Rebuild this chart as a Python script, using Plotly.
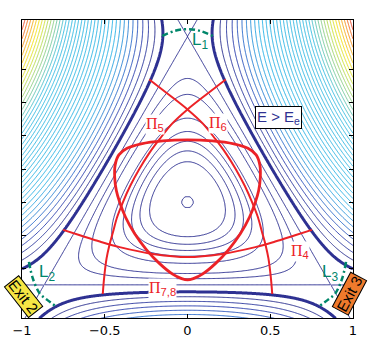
import numpy as np
import plotly.graph_objects as go

# ---------------- data ----------------
E_LEVEL = 0.2                      # energy of the thick equipotential
OUTER_LEVELS = [0.2254, 0.2515, 0.2785, 0.3062, 0.3346, 0.3639, 0.3939, 0.4246, 0.4562, 0.4885,
                0.5216, 0.5554, 0.5901, 0.6255, 0.6616, 0.6986, 0.7363, 0.7747, 0.8140, 0.8540,
                0.8948, 0.9363, 0.9787, 1.0218, 1.0656, 1.1103, 1.1557, 1.2018, 1.2488, 1.2965,
                1.3450, 1.3942, 1.4443, 1.4951, 1.5466, 1.5990, 1.6521, 1.7060, 1.7606]
INNER_LEVELS = [0.0005, 0.025, 0.038, 0.051, 0.065, 0.085, 0.12, 0.14, 1 / 6]

X_TICKS = [-1, -0.5, 0, 0.5, 1]
X_TICK_TEXT = ["\u22121", "\u22120.5", "0", "0.5", "1"]
Y_TICKS = [-0.4, -0.2, 0, 0.2, 0.4, 0.6, 0.8]

# periodic orbit Pi_7,8 (closed loop)
LOOP_RX = [0, 0.15, 0.28, 0.365, 0.415, 0.437, 0.44, 0.43, 0.41, 0.375, 0.32, 0.25, 0.17, 0.09, 0.035, 0]
LOOP_RY = [0.376, 0.37, 0.352, 0.325, 0.285, 0.225, 0.15, 0.07, 0.0, -0.09, -0.19, -0.285, -0.37, -0.435, -0.462, -0.47]
# periodic orbit Pi_5 (Pi_6 is its mirror image)
PI5_X = [-0.231, -0.12, 0.0, 0.09, 0.169, 0.235, 0.291, 0.345, 0.39, 0.425, 0.45, 0.472, 0.489, 0.503, 0.512]
PI5_Y = [0.741, 0.655, 0.56, 0.477, 0.38, 0.29, 0.2, 0.1, 0.0, -0.09, -0.18, -0.26, -0.34, -0.45, -0.555]
# periodic orbit Pi_4
PI4_X = [-0.752, -0.65, -0.53, -0.41, -0.2, 0, 0.2, 0.41, 0.53, 0.65, 0.752]
PI4_Y = [-0.168, -0.2, -0.238, -0.272, -0.315, -0.332, -0.315, -0.272, -0.238, -0.2, -0.168]
# Lyapunov orbits
L1_X = [-0.153, -0.077, 0.0, 0.077, 0.153]
L1_Y = [1.004, 1.034, 1.045, 1.034, 1.004]
L2_X = [-0.958, -0.934, -0.892, -0.85, -0.802]
L2_Y = [-0.361, -0.463, -0.553, -0.589, -0.625]

# ---------------- potential grid (Henon-Heiles) ----------------
xg = np.linspace(-1, 1, 401)
yg = np.linspace(-0.7025, 1.1025, 362)
X, Y = np.meshgrid(xg, yg)
V = 0.5 * (X ** 2 + Y ** 2) + X ** 2 * Y - Y ** 3 / 3.0

# level-index fields (contours drawn at integer index values)
n_in = len(INNER_LEVELS)
xp_in = [0.0] + INNER_LEVELS + [10.0]
fp_in = [-1.0] + list(range(n_in)) + [n_in - 1 + (10.0 - INNER_LEVELS[-1]) / 0.02]
Z_inner = np.round(np.interp(V, xp_in, fp_in), 4)

n_out = len(OUTER_LEVELS)
xp_out = [0.0, E_LEVEL] + OUTER_LEVELS + [10.0]
fp_out = [-E_LEVEL / 0.0254, 0.0] + list(range(1, n_out + 1)) + [n_out + (10.0 - OUTER_LEVELS[-1]) / 0.055]
Z_outer = np.round(np.interp(V, xp_out, fp_out), 4)

NAVY = "#2e3192"
RED = "#ec2227"
GREEN = "#00866a"
LINE_SCALE = [
    [0.0, "#2a2f8f"],
    [0.053, "#2c3fae"],
    [0.105, "#2b6ccc"],
    [0.158, "#2a95dc"],
    [0.21, "#29b2e7"],
    [0.605, "#38bde2"],
    [0.71, "#8ccf88"],
    [0.79, "#cfe23a"],
    [0.842, "#f6e21b"],
    [0.92, "#f7951f"],
    [0.974, "#ef4a2a"],
    [1.0, "#e8382a"],
]

fig = go.Figure()
fig.add_trace(go.Contour(
    x=xg, y=yg, z=Z_outer, showscale=False, hoverinfo="skip",
    contours=dict(coloring="lines", start=1, end=n_out, size=1),
    line=dict(width=1), colorscale=LINE_SCALE,
))
fig.add_trace(go.Contour(
    x=xg, y=yg, z=Z_inner, showscale=False, hoverinfo="skip",
    contours=dict(coloring="none", start=0, end=n_in - 1, size=1),
    line=dict(width=1, color=NAVY),
))
fig.add_trace(go.Contour(
    x=xg, y=yg, z=Z_outer, showscale=False, hoverinfo="skip",
    contours=dict(coloring="none", start=0, end=0, size=1),
    line=dict(width=3, color=NAVY),
))

# periodic orbits
loop_x = LOOP_RX + [-v for v in LOOP_RX[::-1]][1:]
loop_y = LOOP_RY + LOOP_RY[::-1][1:]
fig.add_trace(go.Scatter(x=loop_x, y=loop_y, mode="lines", line=dict(color=RED, width=2.8, shape="spline"), hoverinfo="skip"))
fig.add_trace(go.Scatter(x=PI5_X, y=PI5_Y, mode="lines", line=dict(color=RED, width=2, shape="spline"), hoverinfo="skip"))
fig.add_trace(go.Scatter(x=[-v for v in PI5_X], y=PI5_Y, mode="lines", line=dict(color=RED, width=2, shape="spline"), hoverinfo="skip"))
fig.add_trace(go.Scatter(x=PI4_X, y=PI4_Y, mode="lines", line=dict(color=RED, width=2, shape="spline"), hoverinfo="skip"))

# Lyapunov orbits
for lx, ly in [(L1_X, L1_Y), (L2_X, L2_Y), ([-v for v in L2_X], L2_Y)]:
    fig.add_trace(go.Scatter(x=lx, y=ly, mode="lines",
                             line=dict(color=GREEN, width=2.5, dash="6px,3px,2px,3px", shape="spline"),
                             hoverinfo="skip"))

ann = []
def pi_label(x, y, sub):
    ann.append(dict(x=x, y=y, xref="x", yref="y", showarrow=False,
                    text='<span style="font-family:Liberation Serif">\u03a0</span><sub>%s</sub>' % sub,
                    font=dict(family="Liberation Sans", size=16, color=RED),
                    bgcolor="white", borderpad=0))

pi_label(-0.195, 0.47, "5")
pi_label(0.183, 0.476, "6")
pi_label(0.682, -0.299, "4")
pi_label(-0.153, -0.521, "7,8")

for x, y, s in [(0.075, 0.976, "1"), (-0.847, -0.431, "2"), (0.862, -0.431, "3")]:
    ann.append(dict(x=x, y=y, xref="x", yref="y", showarrow=False,
                    text="L<sub>%s</sub>" % s,
                    font=dict(family="Liberation Sans", size=17, color=GREEN)))

ann.append(dict(x=0.551, y=0.511, xref="x", yref="y", showarrow=False,
                text="E > E<sub>e</sub>", font=dict(family="Liberation Sans", size=15, color=NAVY),
                bgcolor="white", bordercolor="black", borderwidth=1, borderpad=1))

for x, y, txt, col, ang in [(0.0, 1.148, "Exit 1", "#1b9ad6", 0),
                            (-0.99, -0.568, "Exit 2", "#f6e645", 52),
                            (0.978, -0.55, "Exit 3", "#ef7a2c", -62)]:
    ann.append(dict(x=x, y=y, xref="x", yref="y", showarrow=False, text=txt, textangle=ang,
                    font=dict(family="Liberation Sans", size=15, color="black"),
                    bgcolor=col, bordercolor="black", borderwidth=1, borderpad=0))

ann.append(dict(x=0.36, y=-0.80, xref="x", yref="y", showarrow=False,
                text="\u25c2 \u25ab \u25b8  \u25c2 \u25a3 \u25b8  \u25c2 \u2261 \u25b8  \u25c2 \u2261 \u25b8",
                font=dict(family="DejaVu Sans", size=10, color="#c9cbe6")))
ann.append(dict(x=0.015, y=-0.835, xref="x", yref="y", showarrow=False,
                text="coordinate  x", font=dict(family="DejaVu Sans", size=14, color="black")))

fig.update_layout(
    width=369, height=350, margin=dict(l=22, r=14, t=20, b=30),
    paper_bgcolor="white", plot_bgcolor="white", showlegend=False,
    annotations=ann, hovermode=False,
    xaxis=dict(range=[-1, 1], tickvals=X_TICKS, ticktext=X_TICK_TEXT, showgrid=False, zeroline=False,
               showline=True, linecolor="black", linewidth=1, mirror="ticks", ticks="inside",
               ticklen=4, tickcolor="black", tickfont=dict(family="DejaVu Sans", size=13, color="black")),
    yaxis=dict(range=[-0.7, 1.1], tickvals=Y_TICKS, showticklabels=False, showgrid=False, zeroline=False,
               showline=True, linecolor="black", linewidth=1, mirror="ticks", ticks="inside",
               ticklen=4, tickcolor="black"),
)

fig.write_html("out.html")
